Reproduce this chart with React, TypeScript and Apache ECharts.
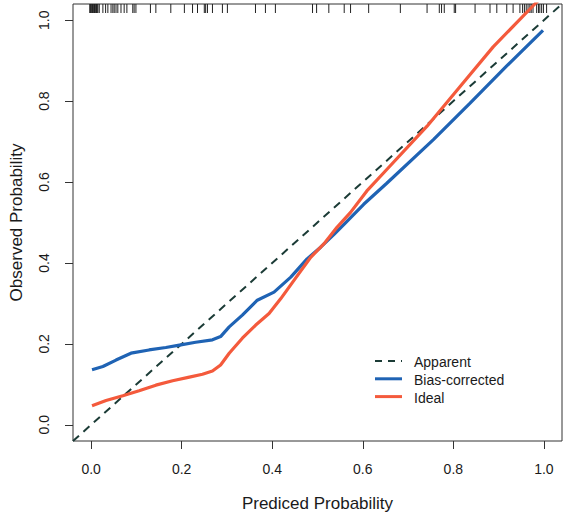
import React, { useEffect, useRef } from "react";
import * as echarts from "echarts";

const tickValues = [0, 0.2, 0.4, 0.6, 0.8, 1.0];

const apparentX = [-0.04, 1.04];
const apparentY = [-0.04, 1.04];

const biasX = [0.002, 0.026, 0.055, 0.088, 0.128, 0.165, 0.195, 0.231, 0.268, 0.286, 0.305, 0.334, 0.367, 0.404, 0.441, 0.477, 0.507, 0.536, 0.558, 0.602, 0.653, 0.756, 0.837, 0.918, 0.998];
const biasY = [0.136, 0.144, 0.160, 0.177, 0.185, 0.191, 0.197, 0.204, 0.210, 0.218, 0.242, 0.271, 0.308, 0.328, 0.365, 0.410, 0.439, 0.470, 0.495, 0.545, 0.597, 0.705, 0.795, 0.887, 0.975];

const idealX = [0.002, 0.033, 0.070, 0.106, 0.143, 0.180, 0.217, 0.246, 0.268, 0.286, 0.305, 0.334, 0.363, 0.393, 0.419, 0.448, 0.485, 0.514, 0.543, 0.573, 0.609, 0.653, 0.742, 0.815, 0.888, 0.980, 0.995];
const idealY = [0.047, 0.060, 0.072, 0.084, 0.098, 0.109, 0.118, 0.125, 0.133, 0.148, 0.177, 0.214, 0.246, 0.275, 0.312, 0.357, 0.414, 0.447, 0.488, 0.525, 0.578, 0.631, 0.738, 0.836, 0.934, 1.04, 1.057];

const rugValues = [-0.003, -0.0015, 0.0, 0.0015, 0.003, 0.0045, 0.006, 0.0075, 0.009, 0.0105, 0.012, 0.0135, 0.015, 0.018, 0.026, 0.032, 0.037, 0.044, 0.048, 0.051, 0.055, 0.059, 0.066, 0.073, 0.079, 0.092, 0.095, 0.099, 0.131, 0.143, 0.176, 0.206, 0.224, 0.235, 0.250, 0.253, 0.257, 0.268, 0.290, 0.301, 0.363, 0.385, 0.407, 0.489, 0.498, 0.525, 0.559, 0.573, 0.613, 0.683, 0.742, 0.769, 0.774, 0.780, 0.802, 0.805, 0.848, 0.881, 0.896, 0.918, 0.932, 0.947, 0.953, 0.957, 0.961, 0.965, 0.969, 0.972, 0.976, 0.984, 0.988, 0.991, 0.995, 0.999, 1.006];

const legendLabels = ["Apparent", "Bias-corrected", "Ideal"];

const AXIS_MIN = -0.04;
const AXIS_MAX = 1.04;

const COLOR_APPARENT = "#1b3b36";
const COLOR_BIAS = "#1f63b4";
const COLOR_IDEAL = "#f45a3c";

const FONT = "'Liberation Sans', Arial, sans-serif";

export default function App() {
  const ref = useRef<HTMLDivElement>(null);

  useEffect(() => {
    document.body.style.margin = "0";
    const chart = echarts.init(ref.current!, null, { renderer: "svg" });

    const zip = (xs: number[], ys: number[]) => xs.map((x, i) => [x, ys[i]]);

    const legendTop = 361;
    const rowGap = 17.8;
    const legendColors = [COLOR_APPARENT, COLOR_BIAS, COLOR_IDEAL];
    const legendGraphics: any[] = [];
    legendLabels.forEach((label, i) => {
      const y = legendTop + i * rowGap;
      legendGraphics.push({
        type: "line",
        shape: { x1: 375, y1: y, x2: 402, y2: y },
        style: {
          stroke: legendColors[i],
          lineWidth: i === 0 ? 2 : 3,
          lineDash: i === 0 ? [7, 6] : null,
        },
      });
      legendGraphics.push({
        type: "text",
        x: 414,
        y: y + 1,
        style: {
          text: label,
          fill: "#1a1a1a",
          font: `14px ${FONT}`,
          verticalAlign: "middle",
          align: "left",
        },
      });
    });

    chart.setOption({
      animation: false,
      textStyle: { fontFamily: FONT },
      grid: {
        left: 72,
        right: 5,
        top: 4,
        bottom: 74,
        show: true,
        borderColor: "#333",
        borderWidth: 1,
        backgroundColor: "transparent",
      },
      xAxis: {
        type: "value",
        min: AXIS_MIN,
        max: AXIS_MAX,
        name: "Prediced Probability",
        nameLocation: "middle",
        nameGap: 54,
        nameTextStyle: { fontSize: 17, color: "#1a1a1a", fontFamily: FONT },
        axisLine: { show: false, onZero: false },
        splitLine: { show: false },
        axisTick: {
          show: true,
          length: 8,
          customValues: tickValues,
          lineStyle: { color: "#333", width: 1 },
        },
        axisLabel: {
          customValues: tickValues,
          margin: 21,
          fontSize: 14,
          color: "#1a1a1a",
          fontFamily: FONT,
          formatter: (v: number) => v.toFixed(1),
        },
      },
      yAxis: {
        type: "value",
        min: AXIS_MIN,
        max: AXIS_MAX,
        name: "Observed Probability",
        nameLocation: "middle",
        nameRotate: 90,
        nameGap: 48,
        nameTextStyle: { fontSize: 17, color: "#1a1a1a", fontFamily: FONT },
        axisLine: { show: false, onZero: false },
        splitLine: { show: false },
        axisTick: {
          show: true,
          length: 8,
          customValues: tickValues,
          lineStyle: { color: "#333", width: 1 },
        },
        axisLabel: {
          customValues: tickValues,
          rotate: 90,
          margin: 22,
          fontSize: 14,
          color: "#1a1a1a",
          fontFamily: FONT,
          formatter: (v: number) => v.toFixed(1),
        },
      },
      series: [
        {
          name: "Apparent",
          type: "line",
          data: zip(apparentX, apparentY),
          showSymbol: false,
          clip: true,
          lineStyle: { color: COLOR_APPARENT, width: 2, type: [8, 6] },
          z: 3,
        },
        {
          name: "Bias-corrected",
          type: "line",
          data: zip(biasX, biasY),
          showSymbol: false,
          clip: true,
          lineStyle: { color: COLOR_BIAS, width: 3.2 },
          z: 4,
        },
        {
          name: "Ideal",
          type: "line",
          data: zip(idealX, idealY),
          showSymbol: false,
          clip: true,
          lineStyle: { color: COLOR_IDEAL, width: 3.2 },
          z: 5,
        },
        {
          name: "rug",
          type: "custom",
          data: rugValues.map((v) => [v, AXIS_MAX]),
          encode: { x: 0, y: 1 },
          renderItem: (params: any, api: any) => {
            const p = api.coord([api.value(0), api.value(1)]);
            return {
              type: "line",
              shape: { x1: p[0], y1: p[1], x2: p[0], y2: p[1] + 9 },
              style: { stroke: "#222", lineWidth: 1 },
            };
          },
          z: 2,
        },
      ],
      graphic: legendGraphics,
    });

    return () => chart.dispose();
  }, []);

  return <div ref={ref} style={{ width: 567, height: 517 }} />;
}
